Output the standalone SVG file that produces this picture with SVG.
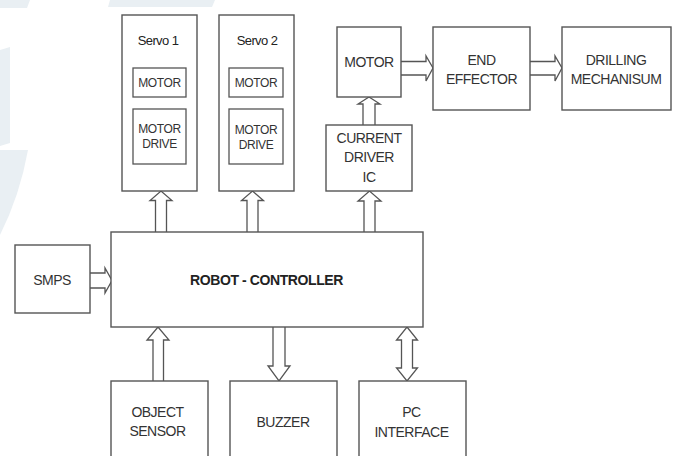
<svg xmlns="http://www.w3.org/2000/svg" width="674" height="456" viewBox="0 0 674 456">
<style>
.box{fill:#fff;stroke:#555;stroke-width:1.4}
.ibox{fill:#fff;stroke:#555;stroke-width:1.3}
.arr{fill:#fff;stroke:#555;stroke-width:1.3;stroke-linejoin:miter}
.t{font-family:"Liberation Sans",Arial,sans-serif;font-size:14px;letter-spacing:-0.5px;fill:#333;text-anchor:middle}
.s{font-size:12px;letter-spacing:-0.4px}
.sv{font-size:13px;fill:#222;letter-spacing:-0.6px}
.b{font-weight:bold;font-size:14px;letter-spacing:-0.4px;fill:#222}
.wm{fill:#e9eff3}
</style>
<rect width="674" height="456" fill="#fff"/>
<g id="watermark">
<polygon class="wm" points="0,0 30,0 27,8 0,8"/>
<polygon class="wm" points="110,0 215,0 212,7 108,7"/>
<polygon class="wm" points="0,50 10,47 10,143 0,146"/>
<path class="wm" d="M0,150 L28,150 Q20,195 0,235 Z"/>
</g>
<g id="connectors">
<polyline class="arr" points="90,273 105,273 105,268 112,280.5 105,293 105,288 90,288"/>
<polyline class="arr" points="155.5,232 155.5,200.5 150,200.5 161,191 172,200.5 166.5,200.5 166.5,232"/>
<polyline class="arr" points="247,232 247,200.5 241.5,200.5 252.5,191 263.5,200.5 258,200.5 258,232"/>
<polyline class="arr" points="364,232 364,201 358,201 369.5,191 381,201 375,201 375,232"/>
<polyline class="arr" points="363,125 363,104 358,104 369,97 380,104 375,104 375,125"/>
<polyline class="arr" points="401,61.5 426,61.5 426,56 433,68 426,81 426,75 401,75"/>
<polyline class="arr" points="530,61.5 555,61.5 555,56 562,68 555,81 555,75 530,75"/>
<polyline class="arr" points="153,381 153,340 147,340 158,327 169,340 163.5,340 163.5,381"/>
<polyline class="arr" points="273,327 273,366 268,366 279,381 290,366 285,366 285,327"/>
<polygon class="arr" points="407,327 417.5,340 412.5,340 412.5,368 417.5,368 407,381 396.5,368 401.5,368 401.5,340 396.5,340"/>
</g>
<g id="servo1">
<rect class="box" x="122" y="15" width="75" height="176"/>
<text class="t sv" x="158" y="45">Servo 1</text>
<rect class="ibox" x="133" y="68" width="53" height="29"/>
<text class="t s" x="159.5" y="87">MOTOR</text>
<rect class="ibox" x="133" y="109" width="53" height="55"/>
<text class="t s" x="159.5" y="133">MOTOR</text>
<text class="t s" x="159.5" y="148">DRIVE</text>
</g>
<g id="servo2">
<rect class="box" x="219" y="15" width="75" height="176"/>
<text class="t sv" x="257" y="45">Servo 2</text>
<rect class="ibox" x="229" y="68" width="54" height="29"/>
<text class="t s" x="256" y="87">MOTOR</text>
<rect class="ibox" x="229" y="109" width="54" height="55"/>
<text class="t s" x="256" y="134">MOTOR</text>
<text class="t s" x="256" y="149">DRIVE</text>
</g>
<g id="motor">
<rect class="box" x="337" y="27" width="64" height="70"/>
<text class="t" x="369" y="67" letter-spacing="0.3">MOTOR</text>
</g>
<g id="end-effector">
<rect class="box" x="433" y="27" width="97" height="83"/>
<text class="t" x="481.5" y="65">END</text>
<text class="t" x="481.5" y="84">EFFECTOR</text>
</g>
<g id="drilling">
<rect class="box" x="562" y="27" width="109" height="83"/>
<text class="t" x="616" y="65">DRILLING</text>
<text class="t" x="616" y="84">MECHANISUM</text>
</g>
<g id="current-driver">
<rect class="box" x="326" y="125" width="86" height="66"/>
<text class="t" x="369" y="143">CURRENT</text>
<text class="t" x="369" y="162">DRIVER</text>
<text class="t" x="369" y="182">IC</text>
</g>
<g id="smps">
<rect class="box" x="15" y="245" width="75" height="68"/>
<text class="t" x="52" y="285">SMPS</text>
</g>
<g id="robot-controller">
<rect class="box" x="111" y="232" width="312" height="95"/>
<text class="t b" x="266.5" y="285">ROBOT - CONTROLLER</text>
</g>
<g id="object-sensor">
<rect class="box" x="111" y="381" width="97" height="90"/>
<text class="t" x="157.5" y="417">OBJECT</text>
<text class="t" x="157.5" y="436">SENSOR</text>
</g>
<g id="buzzer">
<rect class="box" x="230" y="381" width="107" height="90"/>
<text class="t" x="283" y="427">BUZZER</text>
</g>
<g id="pc-interface">
<rect class="box" x="359" y="381" width="107" height="90"/>
<text class="t" x="411.5" y="417">PC</text>
<text class="t" x="411.5" y="437">INTERFACE</text>
</g>
</svg>
